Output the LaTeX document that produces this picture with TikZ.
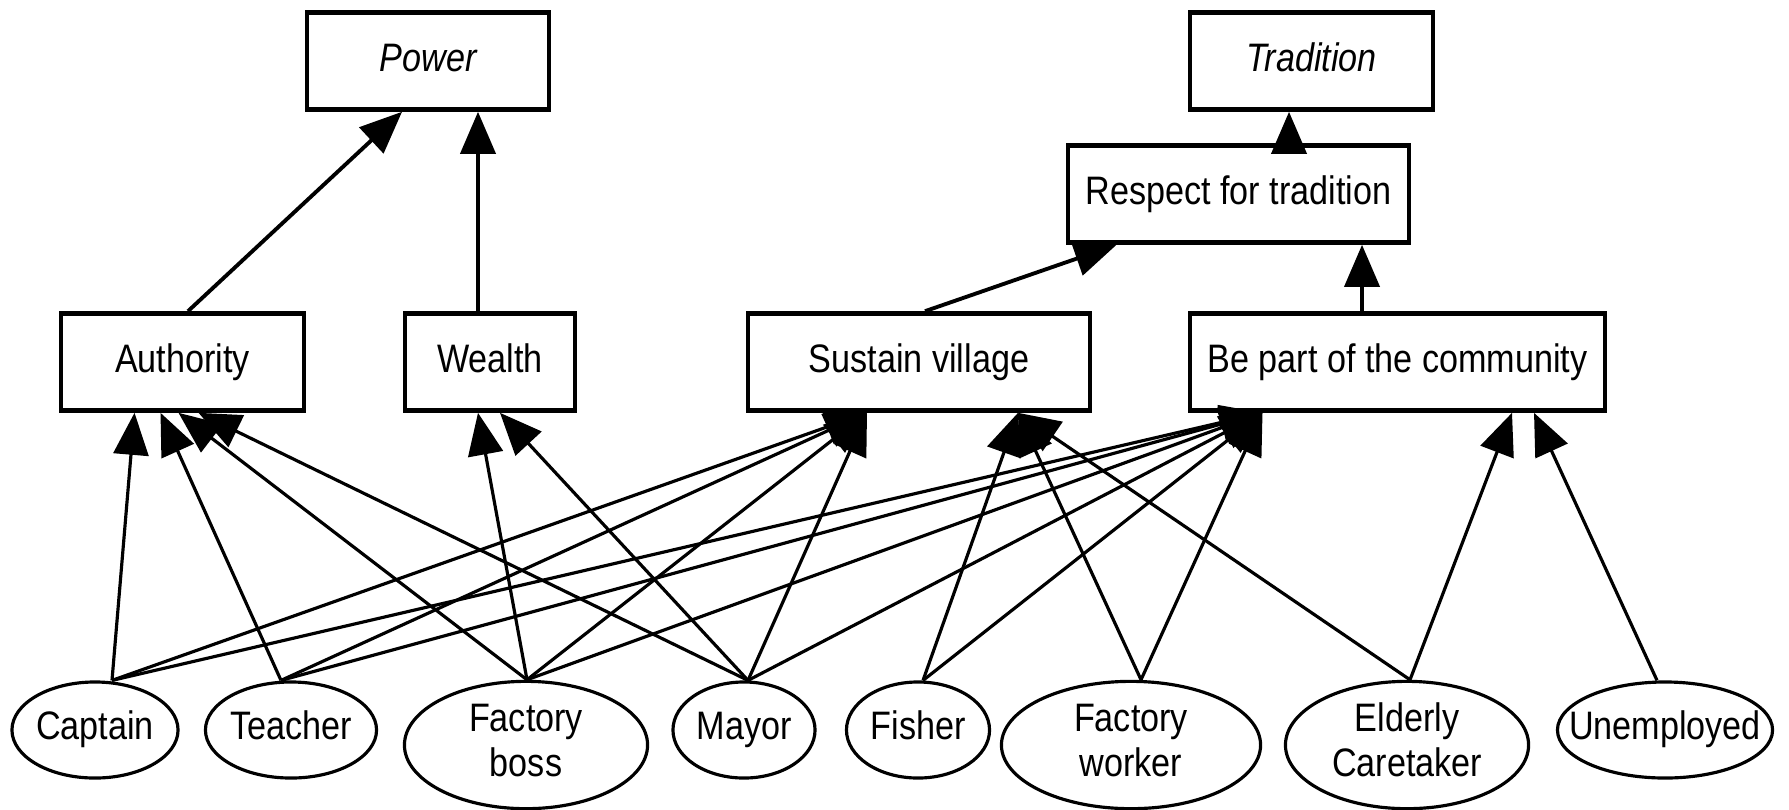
\documentclass[tikz,border=0pt]{standalone}
\usepackage{fontspec}
\setmainfont{Liberation Sans}[FakeStretch=0.86]
\usetikzlibrary{arrows.meta,shapes.geometric,calc}
\newcommand\ovaltext[1]{\makebox[0pt]{\begin{tabular}{@{}c@{}}#1\end{tabular}}}
\begin{document}
\begin{tikzpicture}[x=0.01cm,y=-0.01cm,
  box/.style={draw,line width=1.3pt,inner sep=0pt,minimum height=0.97cm,
    text height=8.2pt,text depth=2.4pt,
    font=\fontsize{11.3pt}{13.5pt}\selectfont},
  oval/.style={draw,ellipse,line width=0.9pt,inner sep=0pt,
    font=\fontsize{11.3pt}{12.8pt}\selectfont},
  arr/.style={line width=0.9pt,-{Triangle[length=0.42cm,width=0.35cm]}},
  uparr/.style={arr,line width=1.1pt},
]
\useasboundingbox (0,0) rectangle (1789,809);

% goal / value boxes
\node[box,minimum width=2.42cm] (power) at (428,61) {\itshape Power};
\node[box,minimum width=2.43cm] (tradition) at (1311.5,61) {\itshape Tradition};
\node[box,minimum width=3.41cm] (respect) at (1238.5,194) {Respect for tradition};
\node[box,minimum width=2.43cm] (authority) at (182.5,362) {Authority};
\node[box,minimum width=1.70cm] (wealth) at (490,362) {Wealth};
\node[box,minimum width=3.42cm] (sustain) at (919,362) {Sustain village};
\node[box,minimum width=4.15cm] (community) at (1397.5,362) {Be part of the community};

% actors
\node[oval,minimum width=1.66cm,minimum height=0.96cm] (captain) at (95,730) {\ovaltext{Captain}};
\node[oval,minimum width=1.71cm,minimum height=0.96cm] (teacher) at (291,730) {\ovaltext{Teacher}};
\node[oval,minimum width=2.43cm,minimum height=1.25cm] (boss) at (526,745) {\ovaltext{Factory\\boss}};
\node[oval,minimum width=1.42cm,minimum height=0.96cm] (mayor) at (744,730) {\ovaltext{Mayor}};
\node[oval,minimum width=1.43cm,minimum height=0.96cm] (fisher) at (918,730) {\ovaltext{Fisher}};
\node[oval,minimum width=2.59cm,minimum height=1.25cm] (worker) at (1131,745) {\ovaltext{Factory\\worker}};
\node[oval,minimum width=2.43cm,minimum height=1.25cm] (elderly) at (1407,745) {\ovaltext{Elderly\\Caretaker}};
\node[oval,minimum width=2.15cm,minimum height=0.96cm] (unemployed) at (1665,730) {\ovaltext{Unemployed}};

% upper connectors
\draw[uparr] ($(authority.north)+(5.5,0)$) -- ($(power.south)+(-26,0)$);
\draw[uparr] ($(wealth.north)+(-12,0)$) -- ($(power.south)+(50,0)$);
\draw[uparr] ($(sustain.north)+(6,0)$) -- ($(respect.south)+(-122,0)$);
\draw[uparr] ($(community.north)+(-35.5,0)$) -- ($(respect.south)+(123.5,0)$);
\draw[uparr] ($(respect.north)+(50.5,0)$) -- ($(tradition.south)+(-22.5,0)$);

% Captain
\draw[arr] ($(captain.north)+(17,0)$) -- ($(authority.south)+(-48,0)$);
\draw[arr] ($(captain.north)+(17,0)$) -- ($(sustain.south)+(-52,0)$);
\draw[arr] ($(captain.north)+(17,0)$) -- ($(community.south)+(-135,0)$);
% Teacher
\draw[arr] ($(teacher.north)+(-10,0)$) -- ($(authority.south)+(-22,0)$);
\draw[arr] ($(teacher.north)+(-10,0)$) -- ($(sustain.south)+(-52,0)$);
\draw[arr] ($(teacher.north)+(-10,0)$) -- ($(community.south)+(-135,0)$);
% Factory boss
\draw[arr] ($(boss.north)+(1,0)$) -- ($(authority.south)+(-4,0)$);
\draw[arr] ($(boss.north)+(1,0)$) -- ($(wealth.south)+(-12,0)$);
\draw[arr] ($(boss.north)+(1,0)$) -- ($(sustain.south)+(-52,0)$);
\draw[arr] ($(boss.north)+(1,0)$) -- ($(community.south)+(-135,0)$);
% Mayor
\draw[arr] ($(mayor.north)+(4,0)$) -- ($(authority.south)+(16,0)$);
\draw[arr] ($(mayor.north)+(4,0)$) -- ($(wealth.south)+(10,0)$);
\draw[arr] ($(mayor.north)+(4,0)$) -- ($(sustain.south)+(-52,0)$);
\draw[arr] ($(mayor.north)+(4,0)$) -- ($(community.south)+(-135,0)$);
% Fisher
\draw[arr] ($(fisher.north)+(5,0)$) -- ($(sustain.south)+(99,0)$);
\draw[arr] ($(fisher.north)+(5,0)$) -- ($(community.south)+(-135,0)$);
% Factory worker
\draw[arr] ($(worker.north)+(10,0)$) -- ($(sustain.south)+(99,0)$);
\draw[arr] ($(worker.north)+(10,0)$) -- ($(community.south)+(-135,0)$);
% Elderly caretaker
\draw[arr] ($(elderly.north)+(3,0)$) -- ($(sustain.south)+(99,0)$);
\draw[arr] ($(elderly.north)+(3,0)$) -- ($(community.south)+(114.5,0)$);
% Unemployed
\draw[arr] ($(unemployed.north)+(-8,0)$) -- ($(community.south)+(136.5,0)$);
\end{tikzpicture}
\end{document}
